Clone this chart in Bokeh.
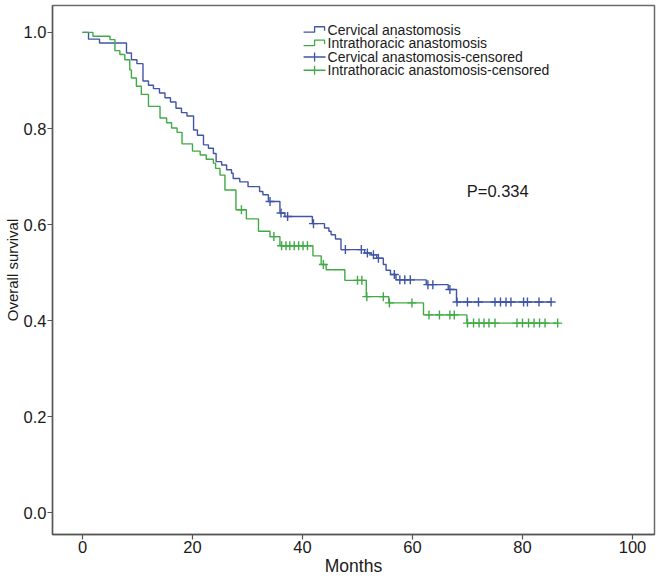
import numpy as np
from bokeh.plotting import figure
from bokeh.models import Range1d, FixedTicker, Label
from bokeh.core.properties import value
from bokeh.embed import file_html
from bokeh.resources import INLINE

# ---- data ----
# Cervical anastomosis: times of deaths (months) and survival level after each
cerv_time = [0, 1.1, 3.1, 8.0, 8.9, 9.9, 11.0, 12.0, 12.9, 14.0, 15.0, 16.0, 17.0, 18.0,
             19.0, 20.2, 20.9, 22.0, 22.9, 23.8, 24.3, 25.3, 26.2, 27.1, 27.4, 28.6, 30.1,
             32.2, 32.8, 33.8, 35.9, 36.8, 41.8, 44.0, 44.8, 45.2, 46.0, 47.0, 51.3, 52.5,
             53.5, 54.7, 55.2, 56.0, 57.0, 62.5, 66.5, 68.0]
cerv_surv = [1.0, 0.986, 0.978, 0.957, 0.943, 0.935, 0.899, 0.890, 0.883, 0.874, 0.864, 0.855,
             0.842, 0.833, 0.826, 0.797, 0.786, 0.766, 0.759, 0.748, 0.731, 0.724, 0.714, 0.707,
             0.696, 0.689, 0.679, 0.669, 0.662, 0.648, 0.624, 0.617, 0.602, 0.593, 0.586, 0.579,
             0.570, 0.548, 0.541, 0.537, 0.530, 0.517, 0.505, 0.496, 0.485, 0.475, 0.465, 0.439]
cerv_censor = [34.1, 36.1, 37.3, 42.0, 47.8, 50.7, 51.8, 52.9, 53.8, 56.7, 57.7, 58.6, 59.6,
               62.8, 63.7, 66.8, 68.1, 70.0, 72.0, 75.0, 76.0, 77.0, 77.9, 80.2, 80.9, 83.0,
               85.2]

# Intrathoracic anastomosis
intra_time = [0, 1.9, 5.0, 5.9, 6.8, 7.7, 8.6, 8.9, 9.8, 10.7, 12.0, 14.1, 15.3, 16.2, 17.2,
              18.1, 20.0, 21.4, 22.5, 23.8, 24.2, 25.0, 25.9, 27.9, 29.8, 32.0, 34.1, 35.9,
              41.9, 43.4, 44.3, 47.7, 51.6, 55.7, 62.0, 69.9]
intra_surv = [1.0, 0.992, 0.985, 0.962, 0.954, 0.943, 0.922, 0.905, 0.888, 0.871, 0.846, 0.822,
              0.812, 0.801, 0.792, 0.768, 0.753, 0.745, 0.736, 0.728, 0.717, 0.703, 0.672,
              0.631, 0.612, 0.586, 0.575, 0.556, 0.535, 0.517, 0.506, 0.484, 0.450, 0.437,
              0.412, 0.395]
intra_censor = [28.9, 34.8, 36.2, 37.0, 37.7, 38.5, 39.3, 40.1, 40.9, 43.8, 50.0, 50.8, 51.7,
                54.7, 55.8, 59.9, 63.0, 64.9, 66.8, 67.6, 70.0, 71.1, 72.1, 73.0, 73.9, 75.0,
                79.0, 80.0, 81.1, 82.1, 83.1, 84.1, 86.4]

legend_labels = ["Cervical anastomosis", "Intrathoracic anastomosis",
                 "Cervical anastomosis-censored", "Intrathoracic anastomosis-censored"]
x_ticks = [0, 20, 40, 60, 80, 100]
y_ticks = [0.0, 0.2, 0.4, 0.6, 0.8, 1.0]
x_title = "Months"
y_title = "Overall survival"
p_text = "P=0.334"

BLUE = "#4055a6"
GREEN = "#40aa46"
FONT = "Liberation Sans"
TXT = "#1a1a1a"

p = figure(width=656, height=578, output_backend="svg", toolbar_location=None,
           x_range=Range1d(-5.45, 104.0), y_range=Range1d(-0.045, 1.056),
           min_border_left=52, min_border_right=2, min_border_top=5, min_border_bottom=40)
p.grid.visible = False
p.outline_line_color = "#6a6a6a"
p.outline_line_width = 1.5
p.background_fill_color = "white"
p.border_fill_color = "white"


def step_xy(times, surv, censor):
    xs = list(times) + [max(censor)]
    ys = list(surv) + [surv[-1]]
    return xs, ys


def censor_y(times, surv, censor):
    idx = np.searchsorted(np.array(times), np.array(censor), side="right") - 1
    return [surv[i] for i in idx]


for t, s, c, col in [(cerv_time, cerv_surv, cerv_censor, BLUE),
                     (intra_time, intra_surv, intra_censor, GREEN)]:
    xs, ys = step_xy(t, s, c)
    p.step(xs, ys, mode="after", line_color=col, line_width=1.4)
    p.scatter(c, censor_y(t, s, c), marker="cross", size=9, line_color=col, line_width=1.4)

# axes
for ax in (p.xaxis[0], p.yaxis[0]):
    ax.axis_line_color = "#555555"
    ax.axis_line_width = 1.3
    ax.major_tick_line_color = "#555555"
    ax.major_tick_line_width = 1.2
    ax.major_tick_in = 0
    ax.major_tick_out = 5
    ax.minor_tick_line_color = None
    ax.major_label_text_font = FONT
    ax.major_label_text_font_size = "16.5px"
    ax.major_label_text_color = TXT
    ax.major_label_standoff = 1
    ax.axis_label_text_font = FONT
    ax.axis_label_text_font_style = "normal"
    ax.axis_label_text_color = TXT
    ax.axis_label_standoff = 0

p.xaxis.ticker = FixedTicker(ticks=x_ticks)
p.yaxis.ticker = FixedTicker(ticks=y_ticks)
p.yaxis.major_label_overrides = {v: f"{v:.1f}" for v in y_ticks}
p.xaxis.axis_label = x_title
p.xaxis.axis_label_text_font_size = "17.5px"
p.yaxis.axis_label = y_title
p.yaxis.axis_label_text_font_size = "15px"

# P value
p.add_layout(Label(x=75.5, y=0.669, text=p_text, text_font=FONT,
                   text_font_size="16.5px", text_align="center", text_baseline="middle",
                   text_color=TXT))

# legend (hand drawn, in data coordinates)
px_x = 1 / 5.5      # months per pixel
px_y = 1 / 482.0    # survival units per pixel
lx0 = 40.2
row_y = [1.0056, 0.9778, 0.9488, 0.9212]
cols = [BLUE, GREEN, BLUE, GREEN]
for i, (lab, col, ry) in enumerate(zip(legend_labels, cols, row_y)):
    if i < 2:
        sx = [lx0, lx0 + 11 * px_x, lx0 + 11 * px_x, lx0 + 21 * px_x, lx0 + 21 * px_x]
        sy = [ry - 2.5 * px_y, ry - 2.5 * px_y, ry + 3 * px_y, ry + 3 * px_y, ry - 1 * px_y]
        p.line(sx, sy, line_color=col, line_width=1.3)
    else:
        p.line([lx0, lx0 + 22 * px_x], [ry, ry], line_color=col, line_width=1.3)
        p.line([lx0 + 11 * px_x, lx0 + 11 * px_x], [ry - 4.5 * px_y, ry + 4.5 * px_y],
               line_color=col, line_width=1.3)
    p.text([lx0 + 24 * px_x], [ry], text=[lab], text_font=value(FONT), text_font_size="14px",
           text_baseline="middle", text_align="left", text_color=TXT)

open("out.html", "w").write(file_html(p, INLINE))
